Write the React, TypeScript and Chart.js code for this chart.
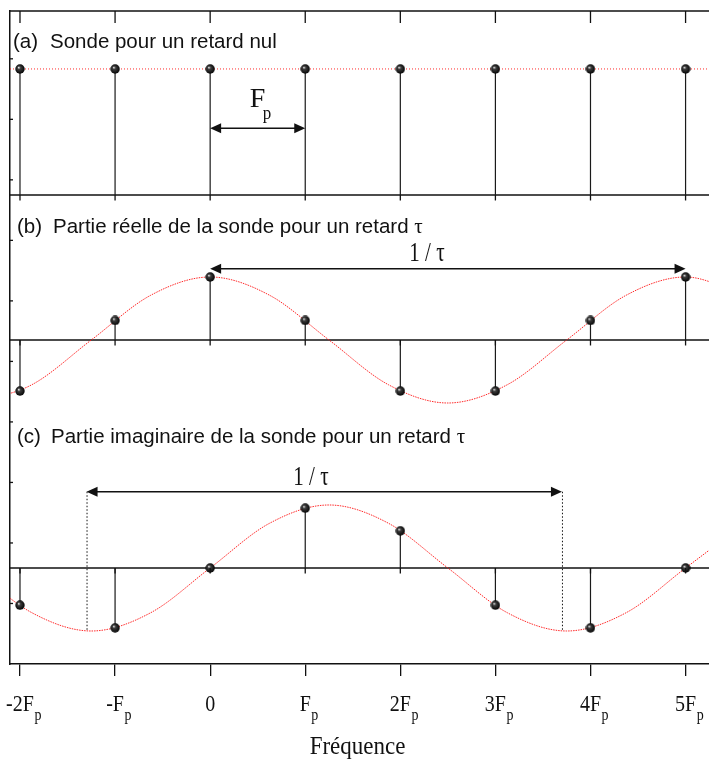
import React, { useEffect, useRef } from "react";
import { Chart, registerables } from "chart.js";

Chart.register(...registerables);

// Frequency axis (multiples of the probe spacing Fp)
const FREQ = [-2, -1, 0, 1, 2, 3, 4, 5];
const X_TICK_MAIN = ["-2F", "-F", "0", "F", "2F", "3F", "4F", "5F"];
const X_TICK_SUB = ["p", "p", "", "p", "p", "p", "p", "p"];
const X_TITLE = "Fréquence";

// Probe samples for each panel
const PROBE_A = [1, 1, 1, 1, 1, 1, 1, 1];
const PROBE_B = [-0.81, 0.31, 1, 0.31, -0.81, -0.81, 0.31, 1];
const PROBE_C = [-0.59, -0.95, 0, 0.95, 0.59, -0.59, -0.95, 0];

// Continuous envelopes (real and imaginary parts)
const CURVE_F = [-2.5, -1.875, -1.25, -0.625, 0, 0.625, 1.25, 1.875, 2.5, 3.125, 3.75, 4.375, 5, 5.625];
const CURVE_B = [-1, -0.71, 0, 0.71, 1, 0.71, 0, -0.71, -1, -0.71, 0, 0.71, 1, 0.71];
const CURVE_C = [0, -0.71, -1, -0.71, 0, 0.71, 1, 0.71, 0, -0.71, -1, -0.71, 0, 0.71];

// Left frame ticks
const Y_TICKS = [1, 2, 3, 4, 5, 6, 7, 8, 9, 10];

// Panel titles: [tag, text, greek suffix]
const TITLE_A = ["(a)", "Sonde pour un retard nul", ""];
const TITLE_B = ["(b)", "Partie réelle de la sonde pour un retard", "τ"];
const TITLE_C = ["(c)", "Partie imaginaire de la sonde pour un retard", "τ"];

// Double arrows: span in Fp, height in panel units
const SPAN_A = { from: 0, to: 1, level: 0.53 };
const SPAN_B = { from: 0, to: 5, level: 1.13 };
const SPAN_C = { from: -1.3, to: 3.7, level: 1.21, drop: -1 };
const LABEL_B_AT = 2.28;
const LABEL_C_AT = 1.06;

const X_MIN = -2.105;
const X_MAX = 5.32;

const SANS = '"Liberation Sans", Arial, sans-serif';
const SERIF = '"Liberation Serif", "Times New Roman", serif';
const INK = "#111";
const RED = "rgba(255,20,20,0.9)";

function makeSphere(): HTMLCanvasElement {
  const c = document.createElement("canvas");
  c.width = 10;
  c.height = 10;
  const g = c.getContext("2d")!;
  const grad = g.createRadialGradient(3.6, 3.4, 0.2, 5, 5, 5);
  grad.addColorStop(0, "#e0e0e0");
  grad.addColorStop(0.3, "#3c3c3c");
  grad.addColorStop(1, "#000");
  g.fillStyle = grad;
  g.beginPath();
  g.arc(5, 5, 4.7, 0, Math.PI * 2);
  g.fill();
  return c;
}

function text(ctx: CanvasRenderingContext2D, s: string, x: number, y: number, font: string, sy = 1, align: CanvasTextAlign = "left") {
  ctx.save();
  ctx.font = font;
  ctx.textAlign = align;
  ctx.textBaseline = "alphabetic";
  ctx.fillStyle = INK;
  ctx.translate(x, y);
  ctx.scale(1, sy);
  ctx.fillText(s, 0, 0);
  ctx.restore();
}

function doubleArrow(ctx: CanvasRenderingContext2D, x1: number, x2: number, y: number) {
  const L = 11;
  const H = 5;
  ctx.save();
  ctx.strokeStyle = INK;
  ctx.fillStyle = INK;
  ctx.lineWidth = 1.5;
  ctx.beginPath();
  ctx.moveTo(x1 + L - 1, y);
  ctx.lineTo(x2 - L + 1, y);
  ctx.stroke();
  ctx.beginPath();
  ctx.moveTo(x1, y);
  ctx.lineTo(x1 + L, y - H);
  ctx.lineTo(x1 + L, y + H);
  ctx.closePath();
  ctx.fill();
  ctx.beginPath();
  ctx.moveTo(x2, y);
  ctx.lineTo(x2 - L, y - H);
  ctx.lineTo(x2 - L, y + H);
  ctx.closePath();
  ctx.fill();
  ctx.restore();
}

const points = (vals: number[]) => FREQ.map((f, i) => ({ x: f, y: vals[i] }));
const curve = (vals: number[]) => CURVE_F.map((f, i) => ({ x: f, y: vals[i] }));
const stems = (vals: number[]) => {
  const out: { x: number; y: number | null }[] = [];
  FREQ.forEach((f, i) => {
    out.push({ x: f, y: 0 }, { x: f, y: vals[i] }, { x: f, y: null });
  });
  return out;
};
const level = (v: number) => [
  { x: X_MIN, y: v },
  { x: X_MAX, y: v },
];

const annotations = {
  id: "annotations",
  afterDraw(chart: any) {
    const { ctx, chartArea: a, scales } = chart;
    const x = scales.x;
    const yt = scales.yt;
    const yA = scales.yA;
    const yB = scales.yB;
    const yC = scales.yC;
    ctx.save();
    ctx.strokeStyle = INK;
    ctx.lineWidth = 1.5;

    // top frame line with inward ticks
    ctx.beginPath();
    ctx.moveTo(a.left, a.top);
    ctx.lineTo(a.right, a.top);
    ctx.stroke();
    ctx.lineWidth = 1.3;
    FREQ.forEach((f) => {
      const px = x.getPixelForValue(f);
      ctx.beginPath();
      ctx.moveTo(px, a.top);
      ctx.lineTo(px, a.top + 12);
      ctx.stroke();
    });

    // left frame inward ticks
    Y_TICKS.forEach((v) => {
      const py = yt.getPixelForValue(v);
      ctx.beginPath();
      ctx.moveTo(a.left, py);
      ctx.lineTo(a.left + 3, py);
      ctx.stroke();
    });

    // small ticks under each panel baseline
    [yA, yB, yC].forEach((s) => {
      const py = s.getPixelForValue(0);
      FREQ.forEach((f) => {
        const px = x.getPixelForValue(f);
        ctx.beginPath();
        ctx.moveTo(px, py);
        ctx.lineTo(px, py + 5.5);
        ctx.stroke();
      });
    });

    // arrows
    const ya = yA.getPixelForValue(SPAN_A.level);
    doubleArrow(ctx, x.getPixelForValue(SPAN_A.from), x.getPixelForValue(SPAN_A.to), ya);
    const yb = yB.getPixelForValue(SPAN_B.level);
    doubleArrow(ctx, x.getPixelForValue(SPAN_B.from), x.getPixelForValue(SPAN_B.to), yb);
    const yc = yC.getPixelForValue(SPAN_C.level);
    const c1 = x.getPixelForValue(SPAN_C.from);
    const c2 = x.getPixelForValue(SPAN_C.to);
    doubleArrow(ctx, c1, c2, yc);
    const yd = yC.getPixelForValue(SPAN_C.drop);
    ctx.save();
    ctx.lineWidth = 1;
    ctx.setLineDash([1.5, 2]);
    [c1, c2].forEach((px) => {
      ctx.beginPath();
      ctx.moveTo(px + 0.5, yc);
      ctx.lineTo(px + 0.5, yd);
      ctx.stroke();
    });
    ctx.restore();

    // arrow labels
    const midA = (x.getPixelForValue(SPAN_A.from) + x.getPixelForValue(SPAN_A.to)) / 2;
    text(ctx, "F", midA - 8, ya - 21, `28px ${SERIF}`, 1.0);
    text(ctx, "p", midA + 5, ya - 9, `17px ${SERIF}`, 1.05);
    text(ctx, "1 / τ", x.getPixelForValue(LABEL_B_AT), yb - 8, `21px ${SERIF}`, 1.25, "center");
    text(ctx, "1 / τ", x.getPixelForValue(LABEL_C_AT), yc - 7, `21px ${SERIF}`, 1.25, "center");

    // panel titles
    const titles: [string[], number, number, number][] = [
      [TITLE_A, 13, 50, 48],
      [TITLE_B, 17, 53, 233],
      [TITLE_C, 17, 51, 443],
    ];
    titles.forEach(([t, tx, bx, by]) => {
      const f = `20.5px ${SANS}`;
      text(ctx, t[0], tx, by, f);
      text(ctx, t[1], bx, by, f);
      if (t[2]) {
        ctx.font = f;
        const w = ctx.measureText(t[1] + " ").width;
        text(ctx, t[2], bx + w, by, `21px ${SERIF}`);
      }
    });

    // x tick labels with subscript
    FREQ.forEach((f, i) => {
      const px = x.getPixelForValue(f);
      const main = `20px ${SERIF}`;
      ctx.font = main;
      const w = ctx.measureText(X_TICK_MAIN[i]).width;
      text(ctx, X_TICK_MAIN[i], px, 711, main, 1.2, "center");
      if (X_TICK_SUB[i]) text(ctx, X_TICK_SUB[i], px + w / 2 + 0.5, 720, `14px ${SERIF}`, 1.2);
    });
    text(ctx, X_TITLE, x.getPixelForValue(1.55), 754, `23px ${SERIF}`, 1.1, "center");

    ctx.restore();
  },
};

export default function App() {
  const ref = useRef<HTMLCanvasElement>(null);

  useEffect(() => {
    if (!ref.current) return;
    const sphere = makeSphere();
    const pointSet = (vals: number[], axis: string) => ({
      data: points(vals),
      yAxisID: axis,
      showLine: false,
      pointStyle: sphere,
      pointRadius: 5,
      order: 0,
    });
    const curveSet = (vals: number[], axis: string) => ({
      data: curve(vals),
      yAxisID: axis,
      borderColor: RED,
      borderWidth: 1,
      borderDash: [1.5, 1],
      pointRadius: 0,
      cubicInterpolationMode: "monotone",
      order: 1,
    });
    const stemSet = (vals: number[], axis: string) => ({
      data: stems(vals),
      yAxisID: axis,
      borderColor: "#1a1a1a",
      borderWidth: 1.2,
      pointRadius: 0,
      spanGaps: false,
      order: 2,
    });
    const baseSet = (axis: string) => ({
      data: level(0),
      yAxisID: axis,
      borderColor: INK,
      borderWidth: 1.5,
      pointRadius: 0,
      order: 3,
    });

    const chart = new Chart(ref.current, {
      type: "line",
      data: {
        datasets: [
          pointSet(PROBE_A, "yA"),
          pointSet(PROBE_B, "yB"),
          pointSet(PROBE_C, "yC"),
          curveSet(CURVE_B, "yB"),
          curveSet(CURVE_C, "yC"),
          {
            data: level(Math.max(...PROBE_A)),
            yAxisID: "yA",
            borderColor: RED,
            borderWidth: 1,
            borderDash: [1, 2],
            pointRadius: 0,
            order: 1,
          },
          stemSet(PROBE_A, "yA"),
          stemSet(PROBE_B, "yB"),
          stemSet(PROBE_C, "yC"),
          baseSet("yA"),
          baseSet("yB"),
          baseSet("yC"),
        ] as any,
      },
      options: {
        responsive: false,
        animation: false,
        events: [],
        layout: { padding: { left: 10, top: 11, right: 0, bottom: 84 } },
        plugins: { legend: { display: false }, tooltip: { enabled: false } },
        scales: {
          x: {
            type: "linear",
            position: "bottom",
            min: X_MIN,
            max: X_MAX,
            afterBuildTicks: (s: any) => {
              s.ticks = FREQ.map((v) => ({ value: v }));
            },
            ticks: { display: false },
            grid: { drawOnChartArea: false, drawTicks: true, tickLength: 12, color: INK, lineWidth: 1.3 },
            border: { display: true, color: INK, width: 1.5 },
          },
          yt: {
            type: "linear",
            position: "left",
            min: 0,
            max: 10.79,
            afterBuildTicks: (s: any) => {
              s.ticks = Y_TICKS.map((v) => ({ value: v }));
            },
            ticks: { display: false },
            grid: { display: false, drawTicks: false },
            border: { display: true, color: INK, width: 1.5 },
          },
          yA: { type: "linear", display: false, min: -3.722, max: 1.46 },
          yB: { type: "linear", display: false, min: -5.143, max: 5.222 },
          yC: { type: "linear", display: false, min: -1.524, max: 8.841 },
        },
      } as any,
      plugins: [annotations],
    });
    return () => chart.destroy();
  }, []);

  return (
    <div style={{ position: "fixed", left: 0, top: 0, width: 709, height: 760, overflow: "hidden", background: "#fff" }}>
      <canvas ref={ref} width={722} height={760} style={{ display: "block" }} />
    </div>
  );
}
